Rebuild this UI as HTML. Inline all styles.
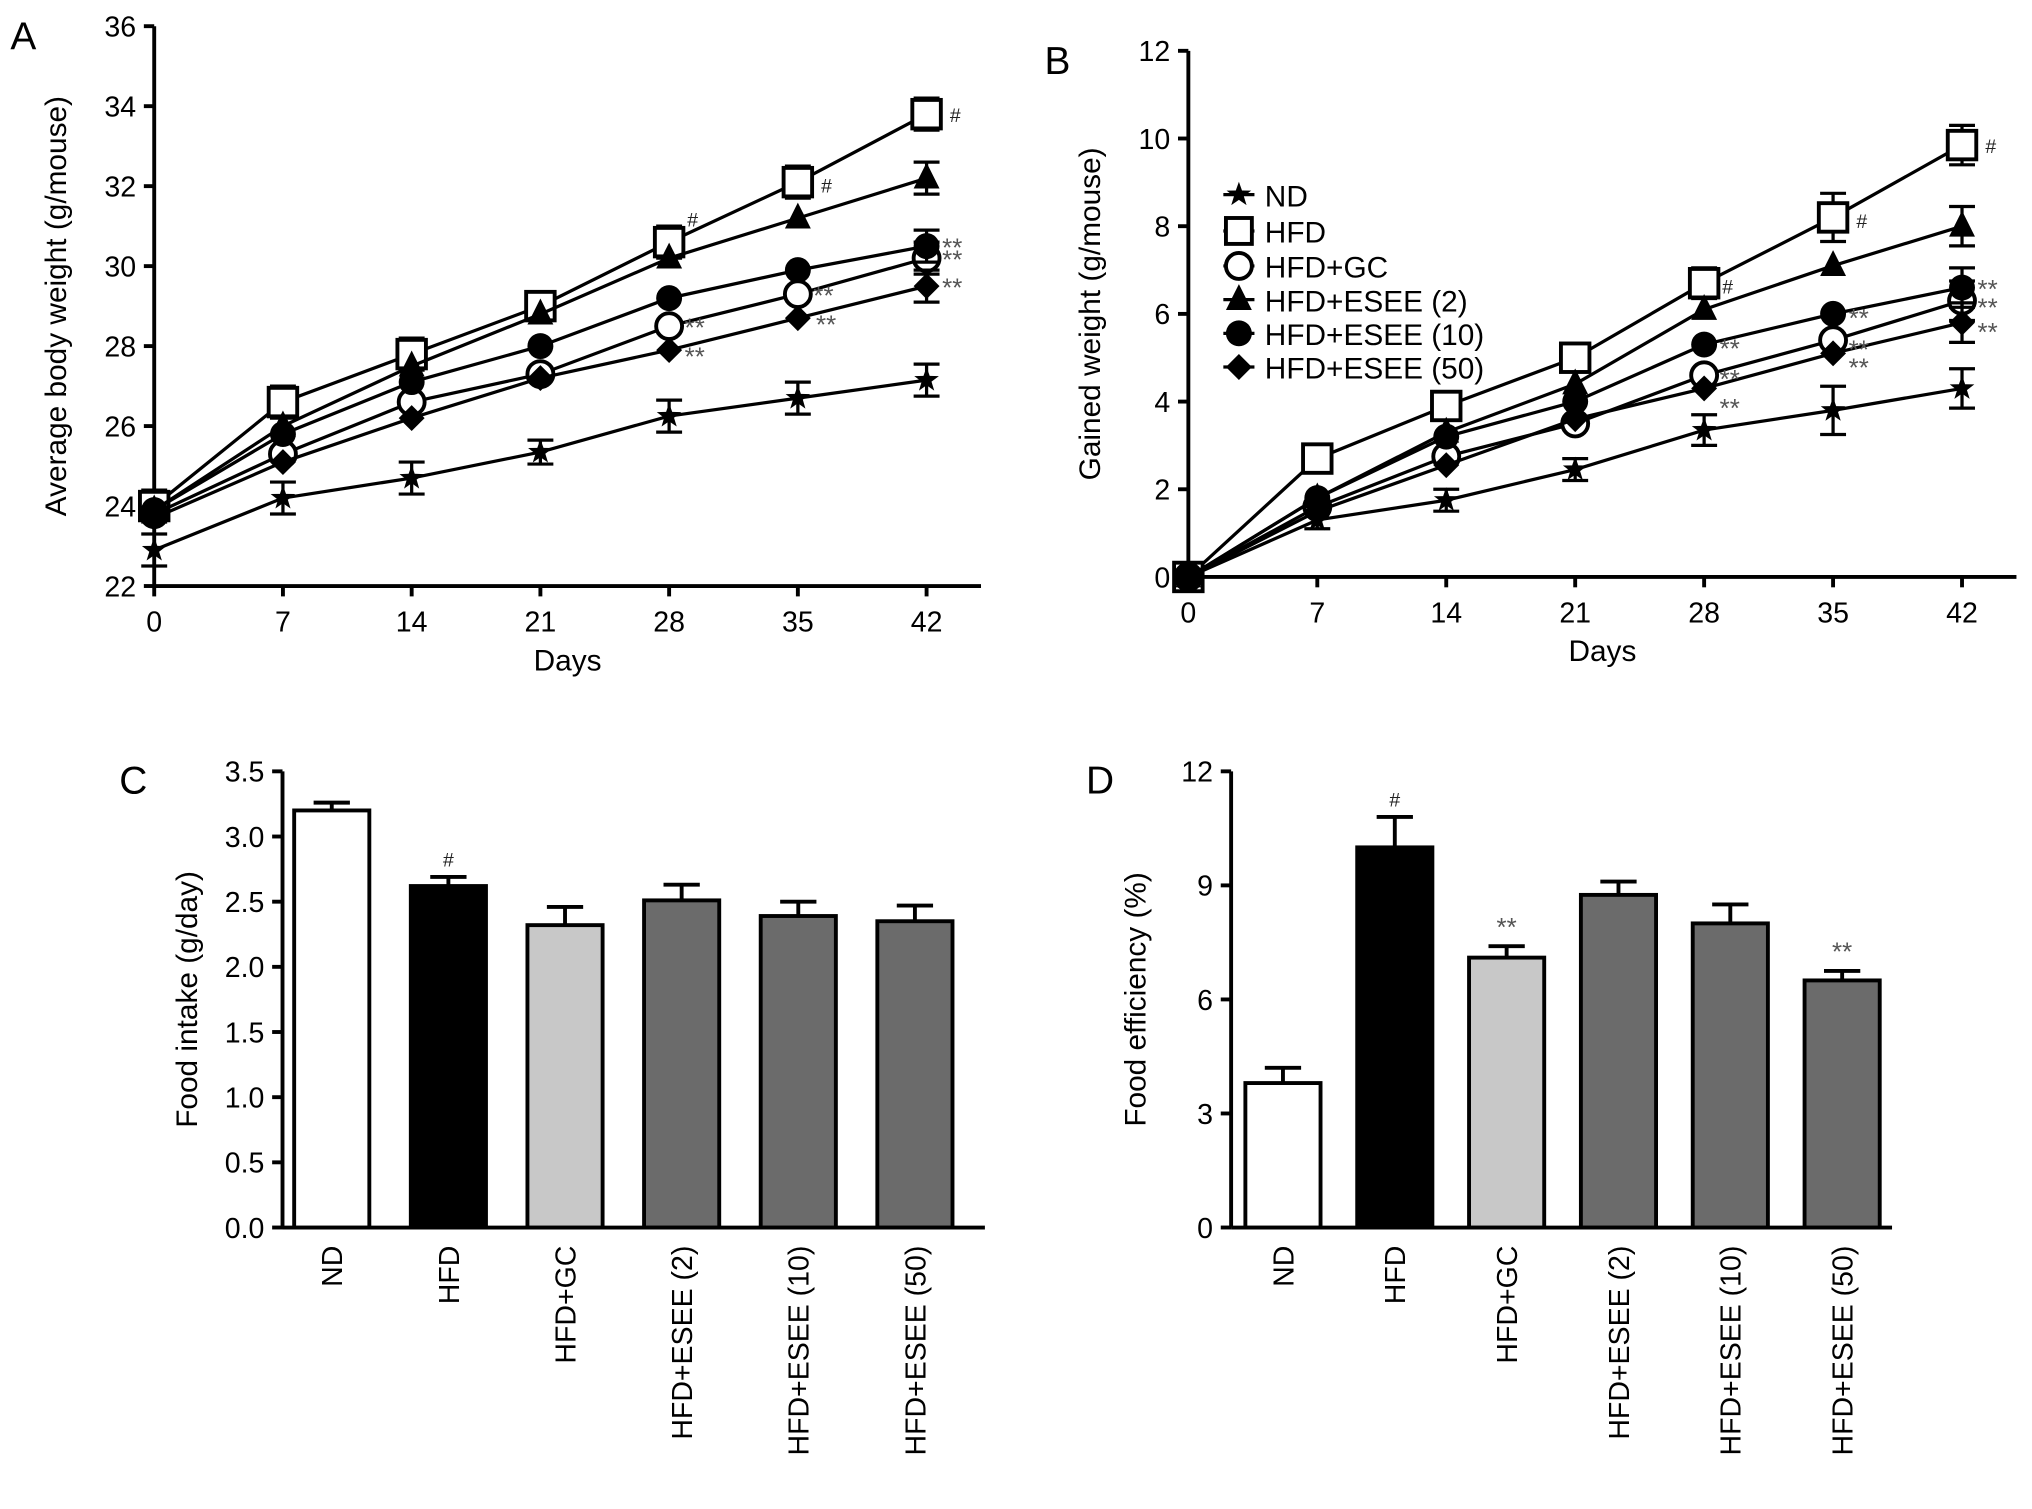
<!DOCTYPE html>
<html><head><meta charset="utf-8">
<style>
html,body{margin:0;padding:0;background:#fff;}
svg{display:block;font-family:"Liberation Sans",Arial,sans-serif;}
</style></head>
<body>
<svg id="fig" width="2032" height="1509" viewBox="0 0 1568 1164" xmlns="http://www.w3.org/2000/svg">
<g id="A"></g>
<g id="B"></g>
<g id="C"></g>
<g id="D"></g>
</svg>
<script>
const days = [0,7,14,21,28,35,42];
const seriesNames = ["ND","HFD","HFD+GC","HFD+ESEE (2)","HFD+ESEE (10)","HFD+ESEE (50)"];
const markers = ["star","square","ocircle","triangle","circle","diamond"];
const aND = [22.9,24.2,24.7,25.35,26.25,26.7,27.15];
const aHFD = [24.0,26.6,27.8,29.0,30.6,32.1,33.8];
const aGC = [23.8,25.3,26.6,27.3,28.5,29.3,30.2];
const aE2 = [23.9,26.0,27.5,28.8,30.2,31.2,32.2];
const aE10 = [23.9,25.8,27.1,28.0,29.2,29.9,30.5];
const aE50 = [23.7,25.1,26.2,27.2,27.9,28.7,29.5];
const aErr = [0.4,0.4,0.4,0.3,0.4,0.4,0.4];
const bND = [0,1.3,1.75,2.45,3.35,3.8,4.3];
const bHFD = [0,2.7,3.9,5.0,6.7,8.2,9.85];
const bGC = [0,1.6,2.75,3.5,4.6,5.4,6.3];
const bE2 = [0,1.8,3.3,4.4,6.1,7.1,8.0];
const bE10 = [0,1.8,3.2,4.0,5.3,6.0,6.6];
const bE50 = [0,1.5,2.55,3.6,4.3,5.1,5.8];
const bErr = [0,0.2,0.25,0.25,0.35,0.55,0.45];
const aTicks = [22,24,26,28,30,32,34,36];
const bTicks = [0,2,4,6,8,10,12];
const barGroups = ["ND","HFD","HFD+GC","HFD+ESEE (2)","HFD+ESEE (10)","HFD+ESEE (50)"];
const foodIntake = [3.2,2.62,2.32,2.51,2.39,2.35];
const foodIntakeErr = [0.06,0.07,0.14,0.12,0.11,0.12];
const foodEff = [3.8,10.0,7.1,8.75,8.0,6.5];
const foodEffErr = [0.4,0.8,0.3,0.35,0.5,0.25];
const cTicks = ["0.0","0.5","1.0","1.5","2.0","2.5","3.0","3.5"];
const dTicks = [0,3,6,9,12];
const barColors = ["#ffffff","#000000","#c8c8c8","#6b6b6b","#6b6b6b","#6b6b6b"];

const NS="http://www.w3.org/2000/svg";
function mk(parent,tag,attrs,text){const e=document.createElementNS(NS,tag);for(const k in attrs)e.setAttribute(k,attrs[k]);if(text!==undefined)e.textContent=text;parent.appendChild(e);return e;}

function marker(g,type,x,y,s){
  let e;
  if(type==="square") e=mk(g,"rect",{x:x-s,y:y-s,width:2*s,height:2*s,fill:"#fff",stroke:"#000","stroke-width":3});
  else if(type==="ocircle"){e=mk(g,"circle",{cx:x,cy:y,r:s,fill:"#fff",stroke:"#000","stroke-width":3});}
  else if(type==="circle") e=mk(g,"circle",{cx:x,cy:y,r:s,fill:"#000"});
  else if(type==="triangle") e=mk(g,"polygon",{points:`${x},${y-s*1.2} ${x-s},${y+s*0.8} ${x+s},${y+s*0.8}`,fill:"#000"});
  else if(type==="diamond") e=mk(g,"polygon",{points:`${x},${y-s} ${x+s},${y} ${x},${y+s} ${x-s},${y}`,fill:"#000"});
  else { let p=[];for(let i=0;i<10;i++){const r=i%2?s*0.4:s;const a=-Math.PI/2+i*Math.PI/5;p.push((x+r*Math.cos(a)).toFixed(1)+","+(y+r*Math.sin(a)).toFixed(1));} e=mk(g,"polygon",{points:p.join(" "),fill:"#000"}); }
  
  
  return e;
}

function linePanel(gid,letter,lx,series,err,ticks,x0,x1,axEnd,y0,y1,tmin,tmax,ylabel){
  const g=document.getElementById(gid);
  const X=d=>x0+(d-0)/42*(x1-x0);
  const Y=v=>y0+(v-tmin)/(tmax-tmin)*(y1-y0);
  mk(g,"text",{x:lx,y:y1+18,"font-size":30,},letter);
  mk(g,"line",{x1:x0,y1:y0,x2:x0,y2:y1,stroke:"#000","stroke-width":3,});
  mk(g,"line",{x1:x0,y1:y0,x2:axEnd,y2:y0,stroke:"#000","stroke-width":3,});
  ticks.forEach(t=>{mk(g,"line",{x1:x0-8,y1:Y(t),x2:x0,y2:Y(t),stroke:"#000","stroke-width":3});
    const tt=mk(g,"text",{x:x0-14,y:Y(t)+8,"font-size":22,"text-anchor":"end"},t);
    });
  days.forEach(d=>{mk(g,"line",{x1:X(d),y1:y0,x2:X(d),y2:y0+8,stroke:"#000","stroke-width":3});
    const tt=mk(g,"text",{x:X(d),y:y0+35,"font-size":22,"text-anchor":"middle"},d);
    });
  mk(g,"text",{x:(x0+axEnd)/2,y:y0+65,"font-size":23,"text-anchor":"middle",},"Days");
  mk(g,"text",{transform:`translate(${x0-68},${(y0+y1)/2}) rotate(-90)`,"font-size":23,"text-anchor":"middle",},ylabel);
  series.forEach((s,si)=>{
    const sg=mk(g,"g",{});
    
    
    mk(sg,"polyline",{points:s.map((v,i)=>X(days[i])+","+Y(v)).join(" "),fill:"none",stroke:"#000","stroke-width":2.5});
    s.forEach((v,i)=>{ if(si<2||i===6){const e=err[i];if(e>0){mk(sg,"line",{x1:X(days[i]),y1:Y(v-e),x2:X(days[i]),y2:Y(v+e),stroke:"#000","stroke-width":2.5});
      [v-e,v+e].forEach(w=>mk(sg,"line",{x1:X(days[i])-10,y1:Y(w),x2:X(days[i])+10,y2:Y(w),stroke:"#000","stroke-width":2.5}));}}
      marker(sg,markers[si],X(days[i]),Y(v),si===1?11:10);});
  });
  return {X,Y};
}

const A=linePanel("A","A",8,[aND,aHFD,aGC,aE2,aE10,aE50],aErr,aTicks,119,715,757,452,20,22,36,"Average body weight (g/mouse)");
const B=linePanel("B","B",806,[bND,bHFD,bGC,bE2,bE10,bE50],bErr,bTicks,917,1514,1556,445,39,0,12,"Gained weight (g/mouse)");
// annotations
const gA=document.getElementById("A"),gB=document.getElementById("B");
function ann(g,x,y,t,c){const e=mk(g,"text",{x:x,y:y,"font-size":t==="#"?15:20,fill:c||"#555"},t);}
ann(gA,A.X(42)+18,A.Y(aHFD[6])+6,"#","#222");ann(gA,A.X(35)+18,A.Y(aHFD[5])+8,"#","#222");ann(gA,A.X(28)+14,A.Y(aHFD[4])-12,"#","#222");
ann(gA,A.X(42)+12,A.Y(aE10[6])+8,"**");ann(gA,A.X(42)+12,A.Y(aGC[6])+8,"**");ann(gA,A.X(42)+12,A.Y(aE50[6])+8,"**");
ann(gA,A.X(35)+12,A.Y(aGC[5])+8,"**");ann(gA,A.X(35)+14,A.Y(aE50[5])+12,"**");ann(gA,A.X(28)+12,A.Y(aGC[4])+8,"**");ann(gA,A.X(28)+12,A.Y(aE50[4])+12,"**");
ann(gB,B.X(42)+18,B.Y(bHFD[6])+6,"#","#222");ann(gB,B.X(35)+18,B.Y(bHFD[5])+8,"#","#222");ann(gB,B.X(28)+14,B.Y(bHFD[4])+8,"#","#222");
ann(gB,B.X(42)+12,B.Y(bE10[6])+8,"**");ann(gB,B.X(42)+12,B.Y(bGC[6])+12,"**");ann(gB,B.X(42)+12,B.Y(bE50[6])+14,"**");
ann(gB,B.X(35)+12,B.Y(bE10[5])+10,"**");ann(gB,B.X(35)+12,B.Y(bGC[5])+14,"**");ann(gB,B.X(35)+12,B.Y(bE50[5])+18,"**");
ann(gB,B.X(28)+12,B.Y(bE10[4])+10,"**");ann(gB,B.X(28)+12,B.Y(bGC[4])+10,"**");ann(gB,B.X(28)+12,B.Y(bE50[4])+22,"**");
// legend
const legY=[150,178,205,231,257,283];
seriesNames.forEach((n,i)=>{const lg=mk(gB,"g",{});
  
  mk(lg,"line",{x1:944,y1:legY[i],x2:968,y2:legY[i],stroke:"#000","stroke-width":2.5});
  marker(lg,markers[i],956,legY[i],10);
  mk(lg,"text",{x:976,y:legY[i]+9,"font-size":23},n);});

function barPanel(gid,letter,lx,vals,errs,ticks,tickVals,x0,axEnd,c0,step,y0,y1,tmax,ylabel,sig){
  const g=document.getElementById(gid);
  const Y=v=>y0-(v/tmax)*(y0-y1);
  const X=i=>c0+i*step;
  mk(g,"text",{x:lx,y:612,"font-size":30,},letter);
  mk(g,"line",{x1:x0,y1:y0,x2:x0,y2:y1,stroke:"#000","stroke-width":3,});
  mk(g,"line",{x1:x0,y1:y0,x2:axEnd,y2:y0,stroke:"#000","stroke-width":3,});
  ticks.forEach((t,i)=>{const v=tickVals[i];mk(g,"line",{x1:x0-8,y1:Y(v),x2:x0,y2:Y(v),stroke:"#000","stroke-width":3});
    const tt=mk(g,"text",{x:x0-14,y:Y(v)+8,"font-size":22,"text-anchor":"end"},t);
    });
  mk(g,"text",{transform:`translate(${x0-66},${(y0+y1)/2}) rotate(-90)`,"font-size":23,"text-anchor":"middle",},ylabel);
  vals.forEach((v,i)=>{const w=58,x=X(i);
    const e=errs[i];
    mk(g,"line",{x1:x,y1:Y(v),x2:x,y2:Y(v+e),stroke:"#000","stroke-width":3});
    mk(g,"line",{x1:x-14,y1:Y(v+e),x2:x+14,y2:Y(v+e),stroke:"#000","stroke-width":3});
    const r=mk(g,"rect",{x:x-w/2,y:Y(v),width:w,height:y0-Y(v),fill:barColors[i],stroke:"#000","stroke-width":3});
    
    
    const t=mk(g,"text",{transform:`translate(${x+8},${y0+14}) rotate(-90)`,"font-size":22,"text-anchor":"end"},barGroups[i]);
    
    if(sig[i]){const s=mk(g,"text",{x:x,y:Y(v+e)-8,"font-size":sig[i]==="#"?15:20,"text-anchor":"middle",fill:sig[i]==="#"?"#222":"#555"},sig[i]);
      }
  });
}
barPanel("C","C",92,foodIntake,foodIntakeErr,cTicks,cTicks.map(Number),218,760,256,90,947,595,3.5,"Food intake (g/day)",["","#","","","",""]);
barPanel("D","D",838,foodEff,foodEffErr,dTicks.map(String),dTicks,950,1460,990,86.3,947,595,12,"Food efficiency (%)",["","#","**","","","**"]);
</script>
</body></html>
